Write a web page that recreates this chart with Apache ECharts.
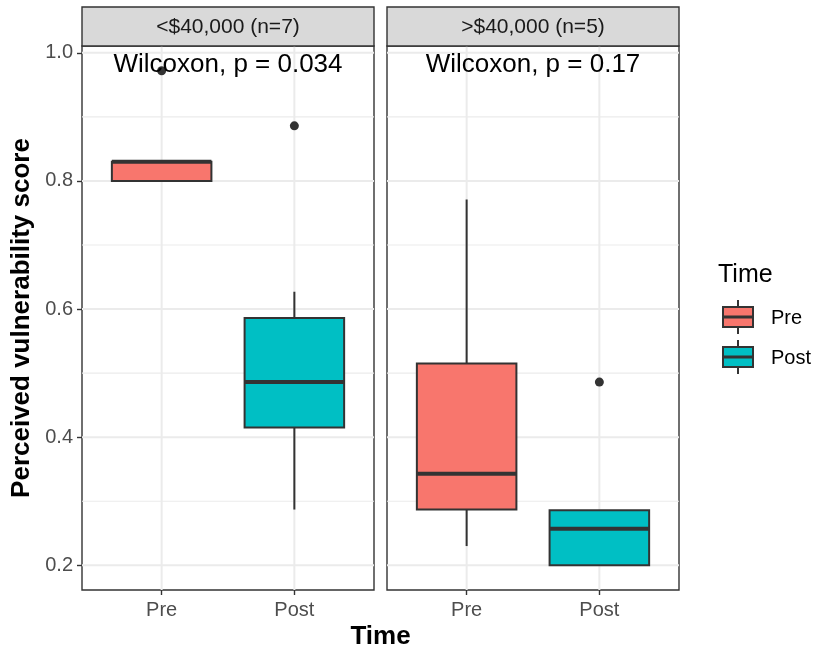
<!DOCTYPE html>
<html>
<head>
<meta charset="utf-8">
<script src="https://cdn.jsdelivr.net/npm/echarts@6/dist/echarts.min.js"></script>
<style>
  html, body { margin: 0; padding: 0; background: #ffffff; }
  #chart { width: 815px; height: 653px; }
</style>
</head>
<body>
<div id="chart"></div>
<script>
// ---- data ----
const timeLevels = ['Pre', 'Post'];
const incomeGroups = ['<$40,000 (n=7)', '>$40,000 (n=5)'];
// five-number summaries: one row per income group, one entry per time point
const whiskerLow  = [[0.800, 0.287], [0.230, 0.200]];
const lowerQuart  = [[0.800, 0.415], [0.287, 0.200]];
const medians     = [[0.830, 0.486], [0.343, 0.257]];
const upperQuart  = [[0.830, 0.586], [0.515, 0.286]];
const whiskerHigh = [[0.830, 0.627], [0.771, 0.286]];
// outlying points: [time position (1 = Pre, 2 = Post), score]
const outliers = [[[1, 0.972], [2, 0.886]], [[2, 0.486]]];
const testLabels = ['Wilcoxon, p = 0.034', 'Wilcoxon, p = 0.17'];
const testLabelY = 0.981;
const yTicks = [0.2, 0.4, 0.6, 0.8, 1.0];
const yMinorTicks = [0.3, 0.5, 0.7, 0.9];

// ---- layout / style ----
const FONT = "'Liberation Sans', Arial, sans-serif";
const fillColors = ['#F8766D', '#00BFC4'];
const ink = '#333333';
const panelLeft = [82, 387];
const panelWidth = 292;
const panelTop = 46;
const panelHeight = 544;
const stripTop = 7;
const xMin = 0.4, xMax = 2.6;
const yMin = 0.1614, yMax = 1.0106;
const boxHalf = 0.375;

const chart = echarts.init(document.getElementById('chart'), null, { renderer: 'canvas' });

const grids = [], xAxes = [], yAxes = [], series = [], graphics = [];

incomeGroups.forEach((group, p) => {
  grids.push({
    left: panelLeft[p], top: panelTop, width: panelWidth, height: panelHeight,
    show: true, backgroundColor: '#ffffff', borderColor: ink, borderWidth: 1.4
  });
  xAxes.push({
    gridIndex: p, type: 'value', min: xMin, max: xMax,
    axisLine: { show: false, onZero: false },
    axisTick: { show: true, customValues: [1, 2], length: 5, lineStyle: { color: ink, width: 1.4 } },
    axisLabel: {
      show: true, customValues: [1, 2], margin: 10,
      formatter: v => timeLevels[Math.round(v) - 1],
      color: '#4d4d4d', fontSize: 20, fontFamily: FONT
    },
    splitLine: { show: false }
  });
  yAxes.push({
    gridIndex: p, type: 'value', min: yMin, max: yMax,
    axisLine: { show: false, onZero: false },
    axisTick: { show: p === 0, customValues: yTicks, length: 5, lineStyle: { color: ink, width: 1.4 } },
    axisLabel: {
      show: p === 0, customValues: yTicks, margin: 9,
      formatter: v => v.toFixed(1),
      color: '#4d4d4d', fontSize: 20, fontFamily: FONT
    },
    splitLine: { show: false }
  });

  // panel grid lines: [orientation (0 = horizontal, 1 = vertical), value, major flag]
  const gridRows = [];
  yMinorTicks.forEach(v => gridRows.push([0, v, 0]));
  yTicks.forEach(v => gridRows.push([0, v, 1]));
  [1, 2].forEach(v => gridRows.push([1, v, 1]));
  series.push({
    type: 'custom', xAxisIndex: p, yAxisIndex: p, z: 1, silent: true,
    data: gridRows,
    renderItem: (params, api) => {
      const orient = api.value(0), v = api.value(1), major = api.value(2);
      let a, b;
      if (orient === 0) { a = api.coord([xMin, v]); b = api.coord([xMax, v]); }
      else { a = api.coord([v, yMin]); b = api.coord([v, yMax]); }
      return {
        type: 'line',
        shape: { x1: a[0], y1: a[1], x2: b[0], y2: b[1] },
        style: { stroke: '#ebebeb', lineWidth: major ? 2 : 1.1 }
      };
    }
  });

  // box-and-whisker marks
  const boxRows = timeLevels.map((t, i) => [
    i + 1, whiskerLow[p][i], lowerQuart[p][i], medians[p][i], upperQuart[p][i], whiskerHigh[p][i]
  ]);
  series.push({
    type: 'custom', xAxisIndex: p, yAxisIndex: p, z: 3, silent: true,
    data: boxRows,
    renderItem: (params, api) => {
      const x = api.value(0);
      const lo = api.value(1), q1 = api.value(2), med = api.value(3), q3 = api.value(4), hi = api.value(5);
      const c = api.coord([x, 0.5])[0];
      const left = api.coord([x - boxHalf, q3]);
      const right = api.coord([x + boxHalf, q1]);
      const yLo = api.coord([x, lo])[1], yHi = api.coord([x, hi])[1];
      const yQ1 = right[1], yQ3 = left[1], yMed = api.coord([x, med])[1];
      const children = [];
      if (yHi < yQ3) children.push({ type: 'line', shape: { x1: c, y1: yHi, x2: c, y2: yQ3 }, style: { stroke: ink, lineWidth: 2 } });
      if (yLo > yQ1) children.push({ type: 'line', shape: { x1: c, y1: yQ1, x2: c, y2: yLo }, style: { stroke: ink, lineWidth: 2 } });
      children.push({
        type: 'rect',
        shape: { x: left[0], y: yQ3, width: right[0] - left[0], height: yQ1 - yQ3 },
        style: { fill: fillColors[x - 1], stroke: ink, lineWidth: 2 }
      });
      children.push({ type: 'line', shape: { x1: left[0], y1: yMed, x2: right[0], y2: yMed }, style: { stroke: ink, lineWidth: 4 } });
      return { type: 'group', children };
    }
  });

  // outliers
  series.push({
    type: 'scatter', xAxisIndex: p, yAxisIndex: p, z: 4, silent: true,
    data: outliers[p], symbol: 'circle', symbolSize: 9,
    itemStyle: { color: ink, opacity: 1 }
  });

  // test annotation
  series.push({
    type: 'custom', xAxisIndex: p, yAxisIndex: p, z: 5, silent: true,
    data: [[1.5, testLabelY]],
    renderItem: (params, api) => {
      const pt = api.coord([api.value(0), api.value(1)]);
      return {
        type: 'text',
        style: {
          x: pt[0], y: pt[1], text: testLabels[p], fill: '#000000',
          font: '26px ' + FONT, textAlign: 'center', textVerticalAlign: 'middle'
        }
      };
    }
  });

  // facet strip
  graphics.push({
    type: 'rect', z: 10,
    shape: { x: panelLeft[p], y: stripTop, width: panelWidth, height: panelTop - stripTop },
    style: { fill: '#d9d9d9', stroke: ink, lineWidth: 1.4 }
  });
  graphics.push({
    type: 'text', z: 11,
    style: {
      x: panelLeft[p] + panelWidth / 2, y: (stripTop + panelTop) / 2 + 1, text: group,
      fill: '#1a1a1a', font: '21px ' + FONT, textAlign: 'center', textVerticalAlign: 'middle'
    }
  });
});

// axis titles
graphics.push({
  type: 'text', z: 11, x: 22, y: 318, rotation: Math.PI / 2,
  style: {
    x: 0, y: 0, text: 'Perceived vulnerability score', fill: '#000000',
    font: 'bold 26px ' + FONT, textAlign: 'center', textVerticalAlign: 'middle'
  }
});
graphics.push({
  type: 'text', z: 11,
  style: {
    x: (panelLeft[0] + panelLeft[1] + panelWidth) / 2, y: 637, text: 'Time', fill: '#000000',
    font: 'bold 26px ' + FONT, textAlign: 'center', textVerticalAlign: 'middle'
  }
});

// legend
graphics.push({
  type: 'text', z: 11,
  style: { x: 718, y: 275, text: 'Time', fill: '#000000', font: '25px ' + FONT, textVerticalAlign: 'middle' }
});
const keyTop = [300, 340];
timeLevels.forEach((t, i) => {
  const y0 = keyTop[i];
  graphics.push({ type: 'line', z: 11, shape: { x1: 738, y1: y0, x2: 738, y2: y0 + 34 }, style: { stroke: ink, lineWidth: 2 } });
  graphics.push({ type: 'rect', z: 12, shape: { x: 723, y: y0 + 7, width: 30, height: 20 }, style: { fill: fillColors[i], stroke: ink, lineWidth: 2 } });
  graphics.push({ type: 'line', z: 13, shape: { x1: 723, y1: y0 + 17, x2: 753, y2: y0 + 17 }, style: { stroke: ink, lineWidth: 3 } });
  graphics.push({
    type: 'text', z: 11,
    style: { x: 771, y: y0 + 18, text: t, fill: '#000000', font: '20px ' + FONT, textVerticalAlign: 'middle' }
  });
});

chart.setOption({
  animation: false,
  backgroundColor: '#ffffff',
  grid: grids,
  xAxis: xAxes,
  yAxis: yAxes,
  series: series,
  graphic: graphics
});
</script>
</body>
</html>
